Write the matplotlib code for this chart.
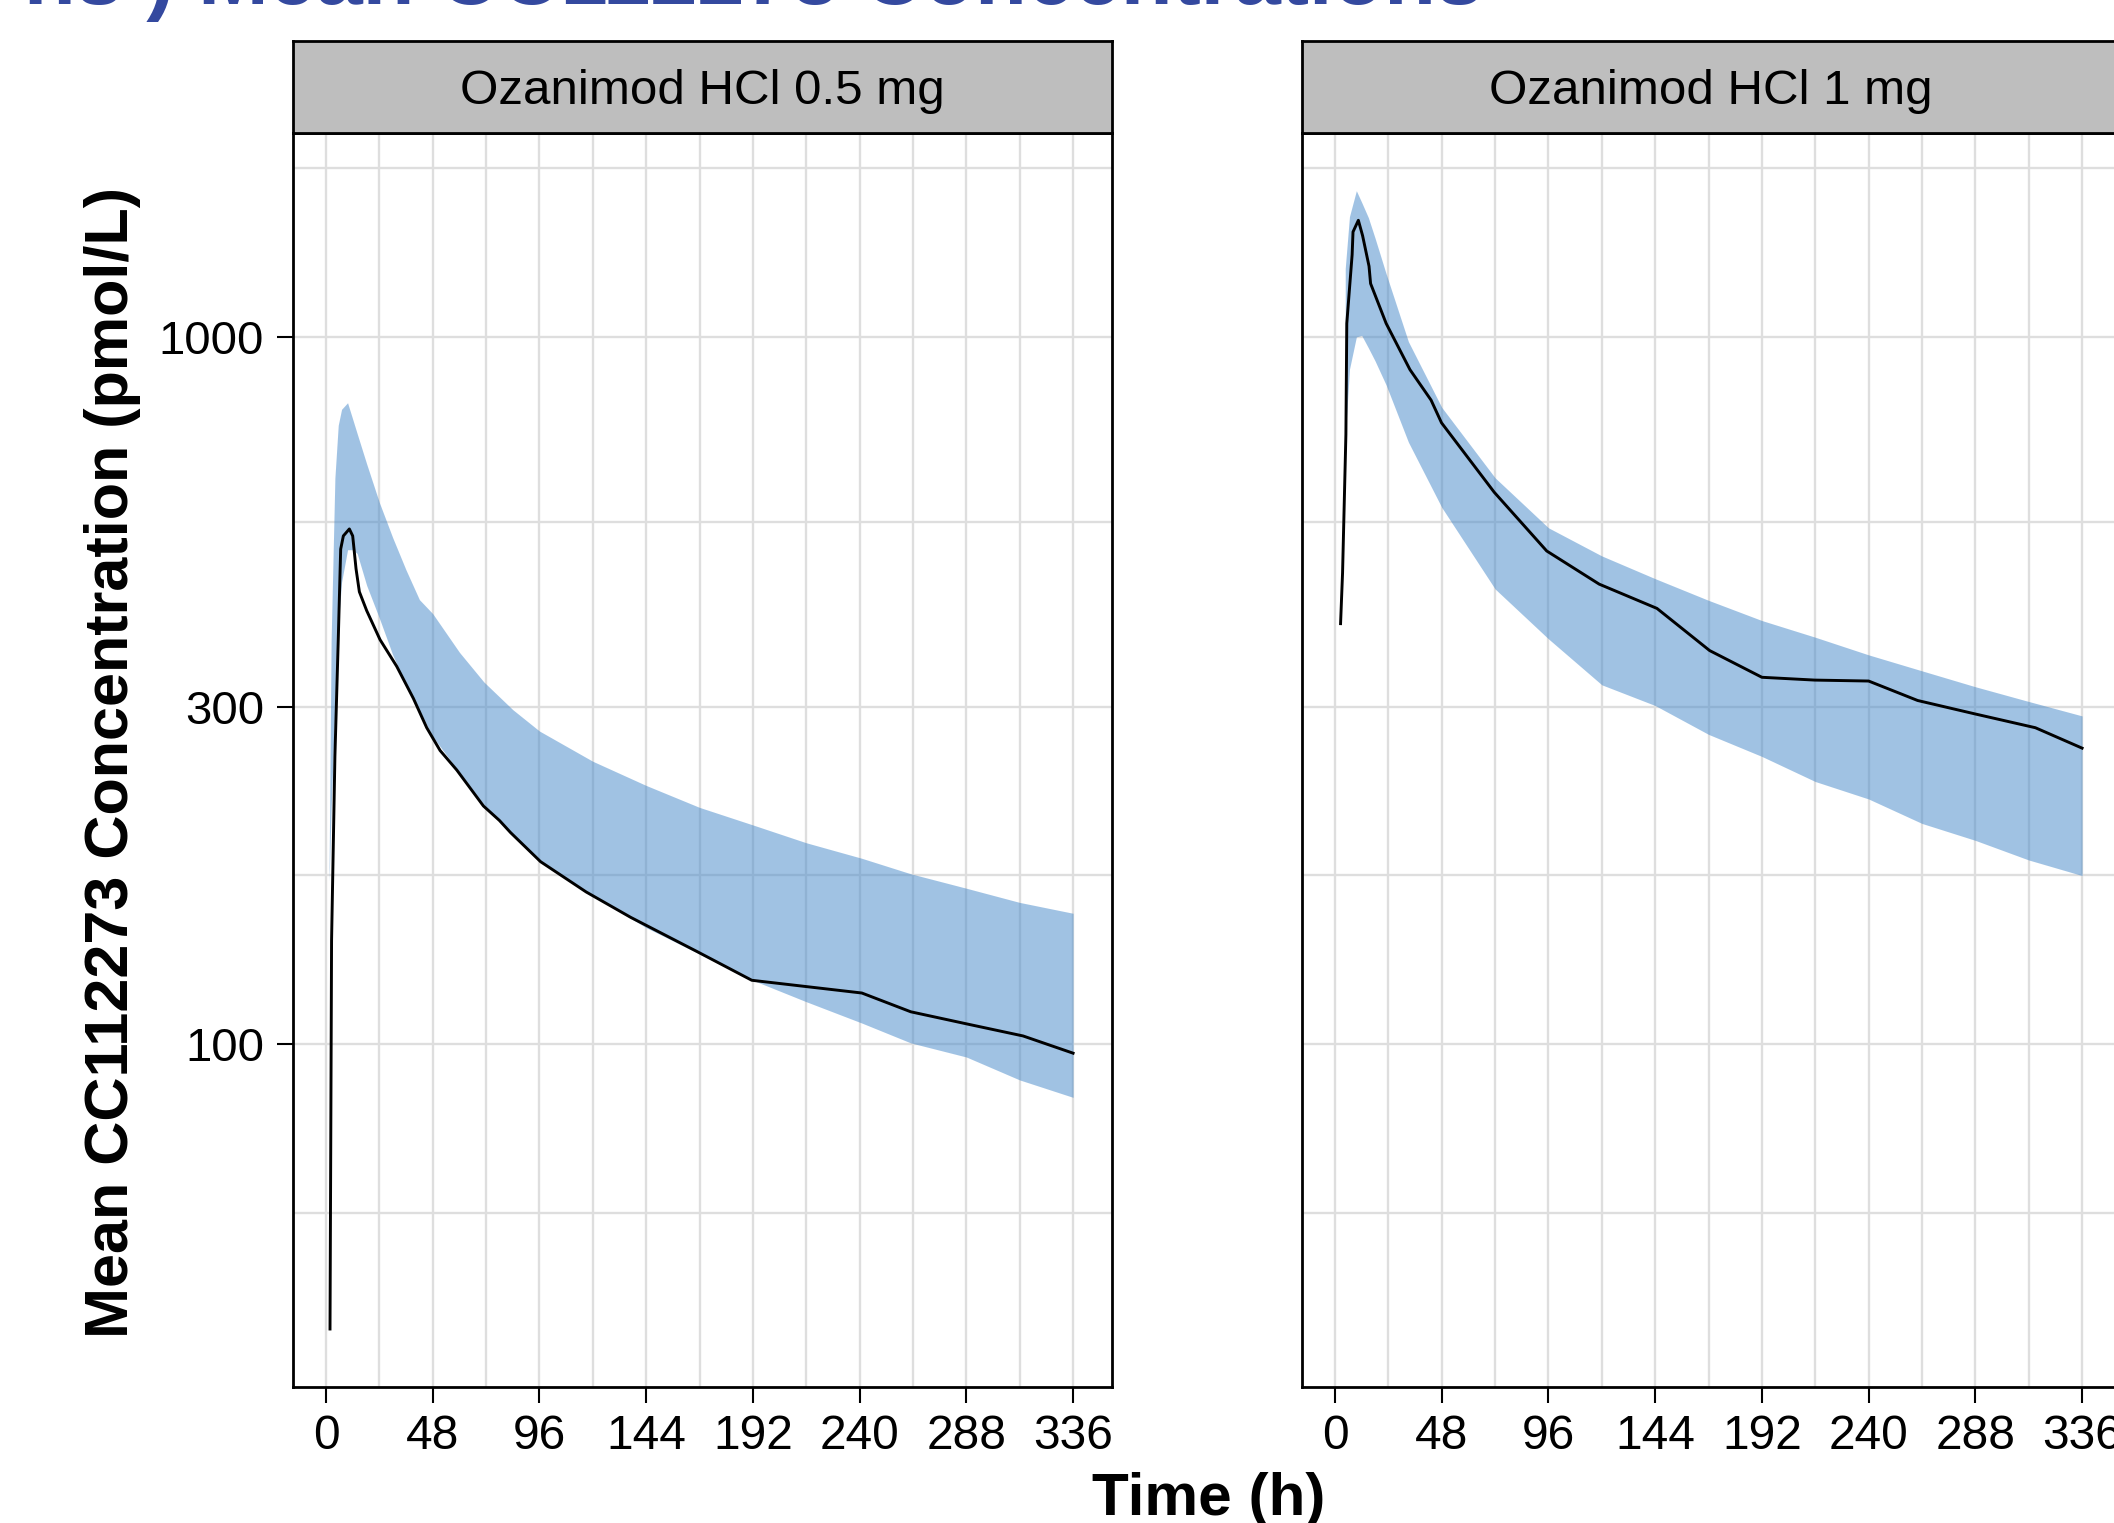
import matplotlib
matplotlib.use('Agg')
import matplotlib.pyplot as plt
from matplotlib.ticker import FixedLocator, NullFormatter
import numpy as np

plt.rcParams['font.family'] = ['Liberation Sans', 'DejaVu Sans']

W, H = 2114, 1523
DPI = 100

panel_titles = ["Ozanimod HCl 0.5 mg", "Ozanimod HCl 1 mg"]
title_text = "ns ) Mean CC112273 Concentrations"
y_label = "Mean CC112273 Concentration (pmol/L)"
x_label = "Time (h)"

x_ticks = [0, 48, 96, 144, 192, 240, 288, 336]
y_ticks = [100, 300, 1000]
y_ticklabels = ["100", "300", "1000"]

# ---- Ozanimod HCl 0.5 mg ----
t_mean_05 = [1.8, 2.5, 4, 5.5, 6.6, 7.8, 10.5, 12, 13.5, 15, 18.3, 24.3, 31.8, 39.3,
             45.3, 51.3, 58.8, 70.8, 78, 83, 96.5, 117, 137, 167, 191.5, 216, 241,
             263, 290, 313.5, 336]
mean_05 = [39.5, 140, 255, 372, 501, 523, 535, 523, 470, 436, 410, 373, 342, 308,
           280, 260, 244, 217, 207, 199, 181, 164, 151, 135, 123, 120.5, 118,
           111, 106.4, 102.6, 97]

t_band_05 = [1.4, 2.3, 4, 5.5, 7, 9.7, 12, 14, 18.3, 24, 30, 36, 42, 48, 60, 71, 84,
             96, 120, 144, 168, 192, 216, 241, 263, 288, 312, 336]
upper_05 = [178, 372, 632, 750, 790, 807, 765, 730, 661, 583, 520, 468, 425, 406, 358,
            325, 297, 277, 251, 232, 216, 204, 192.5, 183, 174, 166, 158.5, 153]
lower_05 = [170, 215, 300, 390, 450, 500, 500, 494, 445, 400, 355, 322, 296, 272, 242,
            218, 198, 181, 162, 146, 134, 123, 114.7, 107, 100.3, 95.8, 88.9, 84]

# ---- Ozanimod HCl 1 mg ----
t_mean_1 = [2.5, 3.4, 4.9, 5.3, 7.7, 8.1, 10.5, 12.4, 15.3, 16, 23, 33.7, 43.2, 47.9,
            71.6, 95.2, 118.8, 144.8, 168.5, 192, 215.8, 240, 262, 287.6, 315, 336]
mean_1 = [393, 464, 728, 1045, 1307, 1408, 1462, 1391, 1259, 1190, 1045, 899, 814, 756,
          603, 498, 447, 413, 360, 330, 327, 326, 306, 293, 280, 262]

t_band_1 = [4.6, 6.5, 9.6, 12, 15, 18, 23, 33, 48, 72, 96, 120, 144, 168, 192, 216,
            240, 264, 288, 312, 336]
upper_1 = [1250, 1480, 1610, 1550, 1475, 1380, 1228, 985, 795, 632, 537, 490, 455, 424,
           397, 376, 355, 337, 320, 305, 291]
lower_1 = [720, 900, 1000, 1005, 965, 925, 855, 710, 574, 440, 374, 322, 301, 274,
           255, 235, 222, 205, 194, 182, 173]

panels = [
    (panel_titles[0], t_mean_05, mean_05, t_band_05, lower_05, upper_05),
    (panel_titles[1], t_mean_1, mean_1, t_band_1, lower_1, upper_1),
]

band_color = (67/255, 135/255, 201/255)
grid_color = '#DEDEDE'
title_color = '#34499F'

fig = plt.figure(figsize=(W / DPI, H / DPI), dpi=DPI)


def box(x0, y0, x1, y1):
    # pixel box (top-left origin) -> figure fraction rect
    return [x0 / W, 1 - y1 / H, (x1 - x0) / W, (y1 - y0) / H]


panel_w = 819.5
panel_lefts = [292.5, 1301.5]
ax_top, ax_bot = 133, 1387
strip_top = 41

xlim = (-15.07, 353.5)
ylim = (32.7, 1943)
y_minor = [57.7, 173.2, 547.7, 1732]
x_minor = [24, 72, 120, 168, 216, 264, 312]

for i, (name, tm, mv, tb, lo, up) in enumerate(panels):
    x0 = panel_lefts[i]
    ax = fig.add_axes(box(x0, ax_top, x0 + panel_w, ax_bot))
    ax.set_yscale('log')
    ax.set_xlim(*xlim)
    ax.set_ylim(*ylim)
    ax.set_axisbelow(True)

    ax.fill_between(tb, lo, up, color=band_color, alpha=0.5, linewidth=0, zorder=2)
    ax.plot(tm, mv, color='black', lw=2.1, zorder=3, solid_joinstyle='round')

    ax.xaxis.set_major_locator(FixedLocator(x_ticks))
    ax.xaxis.set_minor_locator(FixedLocator(x_minor))
    ax.xaxis.set_minor_formatter(NullFormatter())
    ax.set_xticklabels([str(v) for v in x_ticks])
    ax.yaxis.set_major_locator(FixedLocator(y_ticks))
    ax.yaxis.set_minor_locator(FixedLocator(y_minor))
    ax.yaxis.set_minor_formatter(NullFormatter())
    if i == 0:
        ax.set_yticklabels(y_ticklabels)
        ax.tick_params(axis='y', which='major', length=11.5, width=1.5, pad=9,
                       labelsize=34, color='black')
    else:
        ax.set_yticklabels([])
        ax.tick_params(axis='y', which='major', length=0)
    ax.tick_params(axis='x', which='major', length=11.5, width=1.5, pad=8,
                   labelsize=34.5, color='black')
    ax.tick_params(which='minor', length=0)

    ax.grid(True, which='both', color=grid_color, linewidth=1.7)
    for sp in ax.spines.values():
        sp.set_linewidth(2.0)
        sp.set_color('black')

    # strip
    sax = fig.add_axes(box(x0, strip_top, x0 + panel_w, ax_top))
    sax.set_facecolor('#BEBEBE')
    sax.set_xticks([])
    sax.set_yticks([])
    for sp in sax.spines.values():
        sp.set_linewidth(2.0)
        sp.set_color('black')
    sax.text(0.5, 0.455, name, ha='center', va='center', fontsize=35.5,
             transform=sax.transAxes)

fig.text(113 / W, 1 - 762 / H, y_label, rotation=90, ha='center', va='center',
         fontsize=44, fontweight='bold')
fig.text(1209 / W, 1 - 1515 / H, x_label, ha='center', va='baseline',
         fontsize=43.5, fontweight='bold')
fig.text(1483 / W, 1 - 4 / H, title_text, ha='right', va='baseline',
         fontsize=61, fontweight='bold', color=title_color)

fig.savefig('out.png', dpi=DPI)
